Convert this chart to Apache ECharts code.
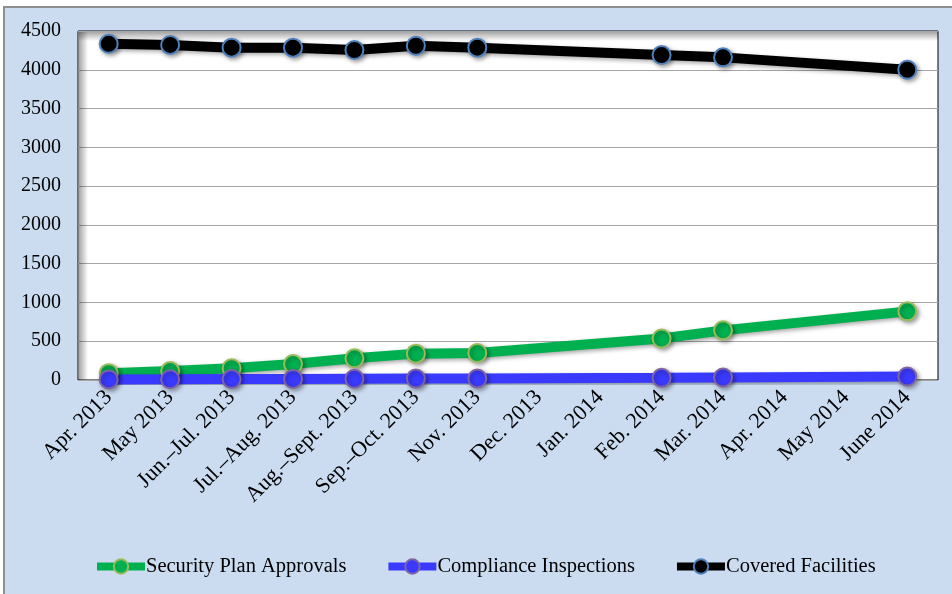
<!DOCTYPE html>
<html>
<head>
<meta charset="utf-8">
<script src="https://cdn.jsdelivr.net/npm/echarts@6/dist/echarts.min.js"></script>
<style>
html,body{margin:0;padding:0;background:#fff;}
#chart{width:952px;height:594px;}
</style>
</head>
<body>
<div id="chart"></div>
<script>
const categories = ["Apr. 2013","May 2013","Jun.–Jul. 2013","Jul.–Aug. 2013","Aug.–Sept. 2013","Sep.–Oct. 2013","Nov. 2013","Dec. 2013","Jan. 2014","Feb. 2014","Mar. 2014","Apr. 2014","May 2014","June 2014"];
const securityPlanApprovals = [88, 115, 152, 205, 280, 340, 348, null, null, 535, 640, null, null, 885];
const complianceInspections = [8, 10, 12, 14, 16, 18, 20, null, null, 28, 32, null, null, 45];
const coveredFacilities = [4335, 4320, 4285, 4285, 4255, 4310, 4285, null, null, 4190, 4160, null, null, 4000];
const yTicks = [0, 500, 1000, 1500, 2000, 2500, 3000, 3500, 4000, 4500];

const serif = '"Liberation Serif", "DejaVu Serif", serif';
const chart = echarts.init(document.getElementById('chart'));

function lineSeries(name, data, color, border, size) {
  return {
    name: name,
    type: 'line',
    data: data,
    connectNulls: true,
    symbol: 'circle',
    symbolSize: size,
    lineStyle: {width: 10, color: color, shadowBlur: 4, shadowColor: 'rgba(0,0,0,0.35)', shadowOffsetX: 2, shadowOffsetY: 2},
    itemStyle: {color: color, borderColor: border, borderWidth: 2, shadowBlur: 4, shadowColor: 'rgba(0,0,0,0.35)', shadowOffsetX: 2, shadowOffsetY: 2},
    emphasis: {disabled: true},
    animation: false
  };
}

chart.setOption({
  animation: false,
  backgroundColor: '#ffffff',
  graphic: [
    {type: 'rect', z: -10, silent: true, shape: {x: 4, y: 7, width: 960, height: 600}, style: {fill: '#cbdcf1', stroke: '#8e8e8e', lineWidth: 2}},
    {type: 'rect', z: 1, silent: true, shape: {x: 79, y: 32, width: 859, height: 9},
     style: {fill: {type: 'linear', x: 0, y: 0, x2: 0, y2: 1, colorStops: [{offset: 0, color: 'rgba(0,0,0,0.35)'}, {offset: 1, color: 'rgba(0,0,0,0)'}]}}},
    {type: 'rect', z: 1, silent: true, shape: {x: 79, y: 32, width: 9, height: 348},
     style: {fill: {type: 'linear', x: 0, y: 0, x2: 1, y2: 0, colorStops: [{offset: 0, color: 'rgba(0,0,0,0.35)'}, {offset: 1, color: 'rgba(0,0,0,0)'}]}}}
  ],
  grid: {left: 78, right: 14, top: 31, bottom: 214, show: true, backgroundColor: '#ffffff', borderColor: '#000000', borderWidth: 1},
  legend: {
    bottom: 12,
    left: 88,
    itemWidth: 48,
    itemHeight: 18,
    itemGap: 38,
    lineStyle: {width: 8},
    textStyle: {fontFamily: serif, fontSize: 20.5, color: '#000', padding: [0, 0, 0, -4]},
    data: ['Security Plan Approvals', 'Compliance Inspections', 'Covered Facilities']
  },
  xAxis: {
    type: 'category',
    data: categories,
    boundaryGap: true,
    axisLine: {show: false},
    axisTick: {show: false},
    axisLabel: {interval: 0, rotate: 45, margin: 14, fontFamily: serif, fontSize: 22, color: '#000'}
  },
  yAxis: {
    type: 'value',
    min: yTicks[0],
    max: yTicks[yTicks.length - 1],
    interval: 500,
    axisLine: {show: false},
    axisTick: {show: false},
    splitLine: {lineStyle: {color: '#a6a6a6', width: 1}},
    axisLabel: {margin: 17, fontFamily: serif, fontSize: 20, color: '#000', formatter: function (v) { return String(v); }}
  },
  series: [
    lineSeries('Covered Facilities', coveredFacilities, '#000000', '#4f81bd', 18),
    lineSeries('Security Plan Approvals', securityPlanApprovals, '#00b050', '#9bbb59', 18),
    lineSeries('Compliance Inspections', complianceInspections, '#3a3aff', '#8064a2', 18)
  ]
});
</script>
</body>
</html>
